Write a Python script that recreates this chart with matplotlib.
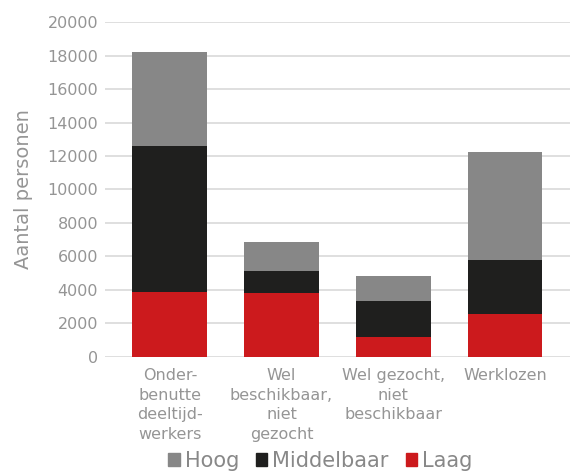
import matplotlib
matplotlib.use("Agg")
import matplotlib.pyplot as plt
import matplotlib.patches as mpatches
import numpy as np

# categories and stacked values per education level
categories = ["Onder-\nbenutte\ndeeltijd-\nwerkers",
              "Wel\nbeschikbaar,\nniet\ngezocht",
              "Wel gezocht,\nniet\nbeschikbaar",
              "Werklozen"]
laag = [3850, 3800, 1150, 2570]
middelbaar = [8750, 1300, 2150, 3240]
hoog = [5600, 1780, 1550, 6410]

c_laag = "#cc1a1d"
c_mid = "#1f1f1e"
c_hoog = "#878787"
txt = "#959595"

plt.rcParams["font.family"] = ["DejaVu Sans"]

fig = plt.figure(figsize=(5.72, 4.71), dpi=100)
ax = fig.add_axes([0.1836, 0.2427, 0.8125, 0.7103])

x = np.arange(len(categories))
w = 0.67
laag = np.array(laag)
middelbaar = np.array(middelbaar)
hoog = np.array(hoog)
ax.bar(x, laag, w, color=c_laag, zorder=3)
ax.bar(x, middelbaar, w, bottom=laag, color=c_mid, zorder=3)
ax.bar(x, hoog, w, bottom=laag + middelbaar, color=c_hoog, zorder=3)

ax.set_ylim(0, 20000)
ax.set_xlim(-0.58, 3.58)
ax.set_yticks(np.arange(0, 20001, 2000))
ax.yaxis.grid(True, color="#d9d9d9", linewidth=1.2, zorder=0)
ax.set_axisbelow(True)
for s in ax.spines.values():
    s.set_visible(False)
ax.tick_params(axis="both", length=0, colors=txt, labelsize=11.5)
ax.tick_params(axis="y", pad=5)
ax.tick_params(axis="x", pad=8)
ax.set_xticks(x)
ax.set_xticklabels(categories, linespacing=1.4)
ax.set_ylabel("Aantal personen", color=txt, fontsize=14, labelpad=10)

handles = [mpatches.Patch(color=c_hoog, label="Hoog"),
           mpatches.Patch(color=c_mid, label="Middelbaar"),
           mpatches.Patch(color=c_laag, label="Laag")]
leg = fig.legend(handles=handles, loc="center", bbox_to_anchor=(0.56, 0.022),
                 ncol=3, frameon=False, fontsize=15, handlelength=0.55,
                 handleheight=0.55, handletextpad=0.25, columnspacing=0.8)
for t in leg.get_texts():
    t.set_color("#888888")

fig.savefig("out.png", dpi=100)
